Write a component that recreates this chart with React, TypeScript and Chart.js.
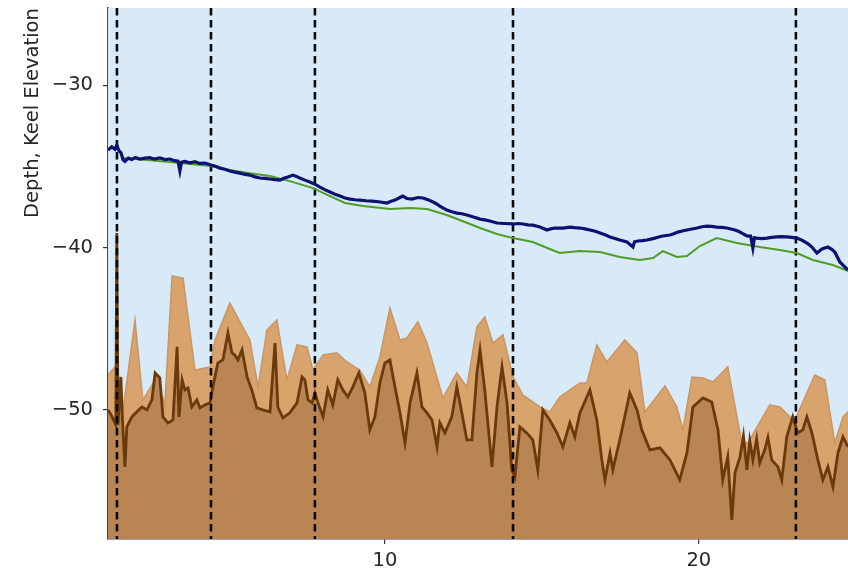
import React, { useEffect, useRef } from "react";
import { Chart, registerables } from "chart.js";

Chart.register(...registerables);

// ---- axes ----
const X_MIN = 1.18;
const X_MAX = 24.75;
const Y_MIN = -57.95;
const Y_MAX = -25.25;
const X_TICKS = [10, 20];
const Y_TICKS = [-50, -40, -30];
const Y_LABEL = "Depth, Keel Elevation";

// vertical dashed dividers (x positions)
const DIVIDER_X = [1.465, 4.46, 7.77, 14.08, 23.09];

// ---- keel elevation (navy) ----
const KEEL_X = [
  1.18, 1.3, 1.4, 1.46, 1.53, 1.59, 1.66, 1.72, 1.83, 1.94, 2.05, 2.2, 2.35, 2.51, 2.65, 2.83, 3.0, 3.15, 3.3, 3.41,
  3.47, 3.52, 3.62, 3.8, 3.95, 4.1, 4.27, 4.46, 4.6, 4.75, 4.9, 5.06, 5.22, 5.38, 5.55, 5.7, 5.86, 6.02, 6.18, 6.34,
  6.5, 6.66, 6.8, 6.91, 7.07, 7.18, 7.29, 7.45, 7.61, 7.77, 7.93, 8.1, 8.25, 8.41, 8.57, 8.73, 8.89, 9.05, 9.2, 9.4,
  9.59, 9.8, 10.06, 10.2, 10.32, 10.45, 10.57, 10.7, 10.86, 11.05, 11.21, 11.37, 11.53, 11.65, 11.75, 11.86, 11.97,
  12.13, 12.29, 12.45, 12.61, 12.82, 13.03, 13.18, 13.34, 13.57, 13.8, 14.08, 14.25, 14.39, 14.55, 14.71, 14.94,
  15.16, 15.28, 15.41, 15.67, 15.89, 16.05, 16.21, 16.37, 16.53, 16.7, 16.85, 17.01, 17.17, 17.33, 17.48, 17.6,
  17.71, 17.9, 17.95, 18.06, 18.2, 18.34, 18.47, 18.6, 18.72, 18.85, 19.08, 19.2, 19.33, 19.47, 19.62, 19.78, 19.94,
  20.1, 20.25, 20.41, 20.57, 20.73, 20.89, 21.02, 21.15, 21.26, 21.37, 21.53, 21.65, 21.72, 21.77, 21.85, 22.0,
  22.17, 22.32, 22.48, 22.64, 22.8, 22.96, 23.12, 23.25, 23.38, 23.5, 23.6, 23.76, 23.92, 24.11, 24.22, 24.33,
  24.49, 24.62, 24.75,
];
const KEEL_Y = [
  -34.0, -33.8, -33.95, -33.7, -34.05, -34.15, -34.6, -34.7, -34.5, -34.58, -34.45, -34.55, -34.5, -34.47, -34.55,
  -34.48, -34.58, -34.55, -34.65, -34.68, -35.29, -34.75, -34.7, -34.78, -34.72, -34.82, -34.8, -34.92, -35.0, -35.11,
  -35.18, -35.29, -35.36, -35.42, -35.5, -35.54, -35.65, -35.72, -35.74, -35.78, -35.82, -35.85, -35.72, -35.66,
  -35.54, -35.62, -35.72, -35.85, -35.97, -36.1, -36.28, -36.45, -36.58, -36.72, -36.83, -36.95, -37.02, -37.06,
  -37.08, -37.12, -37.14, -37.18, -37.26, -37.15, -37.08, -36.95, -36.83, -36.98, -37.02, -36.92, -36.95, -37.05,
  -37.2, -37.32, -37.45, -37.58, -37.69, -37.8, -37.88, -37.92, -38.0, -38.12, -38.25, -38.3, -38.37, -38.49, -38.52,
  -38.55, -38.52, -38.55, -38.6, -38.62, -38.74, -38.92, -38.85, -38.8, -38.8, -38.74, -38.78, -38.8, -38.85, -38.92,
  -39.0, -39.11, -39.22, -39.35, -39.45, -39.54, -39.6, -39.66, -39.97, -39.65, -39.6, -39.58, -39.54, -39.48, -39.42,
  -39.35, -39.29, -39.23, -39.15, -39.05, -38.98, -38.92, -38.86, -38.8, -38.72, -38.68, -38.7, -38.74, -38.76, -38.8,
  -38.86, -38.92, -39.0, -39.11, -39.29, -39.3, -40.03, -39.4, -39.42, -39.45, -39.42, -39.38, -39.35, -39.33, -39.35,
  -39.38, -39.42, -39.52, -39.66, -39.8, -39.97, -40.34, -40.09, -39.97, -40.1, -40.28, -40.89, -41.14, -41.38,
];

// ---- smoothed level (green) ----
const LEVEL_X = [
  1.66, 2.04, 2.52, 3.15, 3.79, 4.46, 5.06, 5.7, 6.34, 6.97, 7.71, 8.25, 8.73, 9.3, 10.16, 10.8, 11.34, 11.97, 12.55,
  13.03, 13.57, 14.08, 14.71, 15.25, 15.57, 16.21, 16.85, 17.48, 18.12, 18.54, 18.85, 19.08, 19.3, 19.62, 20.03,
  20.57, 21.21, 21.94, 22.58, 23.12, 23.63, 24.27, 24.75,
];
const LEVEL_Y = [
  -34.49, -34.55, -34.62, -34.74, -34.86, -34.98, -35.23, -35.42, -35.6, -35.91, -36.34, -36.83, -37.26, -37.45,
  -37.63, -37.57, -37.63, -38.0, -38.43, -38.8, -39.17, -39.42, -39.66, -40.09, -40.34, -40.22, -40.28, -40.58,
  -40.77, -40.65, -40.22, -40.4, -40.58, -40.52, -39.91, -39.42, -39.72, -39.97, -40.15, -40.34, -40.77, -41.08,
  -41.45,
];

// ---- upper envelope (light tan) ----
const ENVELOPE_X = [
  1.18, 1.4, 1.66, 2.04, 2.29, 2.74, 2.99, 3.22, 3.57, 3.95, 4.43, 4.59, 5.06, 5.7, 5.96, 6.24, 6.56, 6.88, 7.2, 7.52,
  7.71, 8.03, 8.47, 8.79, 9.2, 9.52, 9.84, 10.16, 10.48, 10.7, 11.05, 11.34, 11.85, 12.29, 12.61, 12.93, 13.18,
  13.44, 13.76, 14.08, 14.39, 14.94, 15.25, 15.57, 16.21, 16.43, 16.75, 17.07, 17.64, 18.03, 18.28, 18.92, 19.3,
  19.49, 19.78, 20.13, 20.45, 20.92, 21.37, 21.56, 22.26, 22.58, 22.9, 23.06, 23.69, 24.01, 24.33, 24.59, 24.75,
];
const ENVELOPE_Y = [
  -47.85, -47.35, -50.0, -44.46, -49.38, -47.97, -49.69, -41.75, -41.88, -47.54, -47.35, -45.69, -43.42, -45.69,
  -48.58, -45.08, -44.46, -48.15, -46.0, -46.12, -47.54, -46.62, -46.49, -47.05, -47.54, -48.58, -46.74, -43.72,
  -45.69, -45.57, -44.58, -45.88, -49.26, -47.72, -48.58, -44.89, -44.28, -45.88, -45.38, -47.97, -49.08, -49.82,
  -50.12, -49.2, -48.34, -48.34, -46.0, -47.05, -45.69, -46.49, -50.12, -48.52, -49.82, -51.23, -47.97, -48.03,
  -48.28, -47.35, -52.03, -52.03, -49.69, -49.82, -50.43, -50.62, -47.85, -48.15, -52.03, -50.43, -50.12,
];

// ---- bed profile (dark brown) ----
const BED_X = [
  1.18, 1.24, 1.31, 1.43, 1.46, 1.5, 1.59, 1.64, 1.72, 1.78, 1.94, 2.1, 2.26, 2.42, 2.58, 2.68, 2.83, 2.93, 3.09,
  3.25, 3.38, 3.44, 3.54, 3.63, 3.73, 3.85, 4.01, 4.11, 4.27, 4.43, 4.52, 4.68, 4.84, 5.0, 5.13, 5.22, 5.32, 5.45,
  5.61, 5.76, 5.92, 6.11, 6.34, 6.5, 6.59, 6.75, 6.97, 7.2, 7.36, 7.45, 7.55, 7.68, 7.77, 7.87, 8.03, 8.18, 8.34,
  8.5, 8.66, 8.82, 8.98, 9.17, 9.36, 9.52, 9.68, 9.84, 10.0, 10.16, 10.32, 10.48, 10.64, 10.8, 11.02, 11.18, 11.34,
  11.5, 11.66, 11.75, 11.91, 12.13, 12.29, 12.45, 12.61, 12.77, 12.93, 13.03, 13.18, 13.41, 13.57, 13.73, 13.89,
  14.04, 14.14, 14.3, 14.52, 14.71, 14.87, 15.03, 15.25, 15.48, 15.67, 15.89, 16.05, 16.21, 16.53, 16.75, 16.91,
  17.01, 17.17, 17.26, 17.48, 17.8, 18.03, 18.18, 18.44, 18.76, 19.08, 19.39, 19.62, 19.81, 20.13, 20.41, 20.61,
  20.76, 20.92, 21.05, 21.15, 21.31, 21.42, 21.53, 21.62, 21.72, 21.84, 21.94, 22.1, 22.2, 22.32, 22.52, 22.64,
  22.8, 22.99, 23.15, 23.31, 23.44, 23.6, 23.79, 23.95, 24.11, 24.27, 24.43, 24.59, 24.75,
];
const BED_Y = [
  -50.0, -50.18, -50.43, -50.92, -39.11, -50.92, -47.97, -50.6, -53.51, -51.05, -50.43, -50.12, -49.82, -50.0,
  -49.38, -47.72, -48.03, -50.43, -50.8, -50.62, -46.12, -50.43, -48.15, -48.77, -48.65, -49.82, -49.38, -49.88,
  -49.69, -49.57, -48.58, -47.11, -46.92, -45.26, -46.49, -46.62, -46.92, -46.31, -47.97, -48.77, -49.88, -50.0,
  -50.12, -45.88, -49.82, -50.49, -50.18, -49.57, -47.97, -48.15, -49.38, -49.57, -48.95, -49.57, -50.43, -48.77,
  -49.69, -48.15, -48.77, -49.2, -48.58, -47.72, -48.95, -51.23, -50.43, -48.34, -47.11, -46.92, -48.58, -50.18,
  -52.03, -49.57, -47.72, -49.82, -50.18, -50.62, -52.28, -50.8, -51.42, -50.43, -48.58, -50.18, -51.85, -51.85,
  -47.72, -46.31, -48.77, -53.51, -49.82, -47.35, -49.57, -53.69, -54.12, -51.05, -51.42, -51.85, -53.69, -50.0,
  -50.62, -51.42, -52.28, -50.8, -51.66, -50.18, -48.77, -50.62, -53.08, -54.31, -52.65, -53.69, -51.85, -48.95,
  -50.0, -51.23, -52.46, -52.34, -53.08, -54.31, -52.65, -49.82, -49.26, -49.51, -51.23, -54.31, -52.89, -56.77,
  -53.88, -52.89, -51.6, -53.69, -51.9, -53.08, -51.8, -53.26, -52.46, -51.7, -53.08, -53.51, -54.31, -51.66, -50.43,
  -51.42, -51.23, -50.43, -51.42, -53.08, -54.31, -53.51, -54.74, -52.65, -51.66, -52.28,
];

// ---- colours ----
const WATER_COLOR = "#d8eaf8";
const ENVELOPE_FILL = "#d9a36d";
const ENVELOPE_EDGE = "#c99563";
const BED_FILL = "#b98553";
const BED_LINE = "#6a3a0c";
const KEEL_COLOR = "#0d1170";
const LEVEL_COLOR = "#4f9c28";
const TEXT_COLOR = "#262626";
const FONT = "'DejaVu Sans', 'Liberation Sans', sans-serif";

const zip = (xs: number[], ys: number[]) => xs.map((x, i) => ({ x, y: ys[i] }));
const fmt = (v: number) => (v < 0 ? "\u2212" + Math.abs(v) : String(v));

const waterPlugin = {
  id: "water",
  beforeDatasetsDraw(chart: any) {
    const { ctx, chartArea: a } = chart;
    ctx.save();
    ctx.fillStyle = WATER_COLOR;
    ctx.fillRect(a.left, a.top, a.right - a.left, a.bottom - a.top);
    ctx.restore();
  },
};

const yLabelPlugin = {
  id: "yLabel",
  afterDraw(chart: any) {
    const { ctx } = chart;
    ctx.save();
    ctx.translate(33, 113);
    ctx.rotate(-Math.PI / 2);
    ctx.font = `19.5px ${FONT}`;
    ctx.fillStyle = TEXT_COLOR;
    ctx.textAlign = "center";
    ctx.textBaseline = "middle";
    ctx.fillText(Y_LABEL, 0, 0);
    ctx.restore();
  },
};

export default function App() {
  const ref = useRef<HTMLCanvasElement | null>(null);

  useEffect(() => {
    if (!ref.current) return;
    const dividerSets = DIVIDER_X.map((d) => ({
      data: [
        { x: d, y: Y_MAX },
        { x: d, y: Y_MIN },
      ],
      borderColor: "#0a0a0a",
      borderWidth: 2.6,
      borderDash: [7.5, 4.5],
      pointRadius: 0,
      fill: false,
      order: 3,
    }));

    const chart = new Chart(ref.current, {
      type: "line",
      data: {
        datasets: [
          {
            data: zip(KEEL_X, KEEL_Y),
            borderColor: KEEL_COLOR,
            borderWidth: 3.2,
            pointRadius: 0,
            fill: false,
            order: 1,
          },
          {
            data: zip(LEVEL_X, LEVEL_Y),
            borderColor: LEVEL_COLOR,
            borderWidth: 2,
            pointRadius: 0,
            fill: false,
            order: 2,
          },
          ...dividerSets,
          {
            data: zip(BED_X, BED_Y),
            borderColor: BED_LINE,
            backgroundColor: BED_FILL,
            borderWidth: 2.8,
            pointRadius: 0,
            fill: "start",
            order: 4,
          },
          {
            data: zip(ENVELOPE_X, ENVELOPE_Y),
            borderColor: ENVELOPE_EDGE,
            backgroundColor: ENVELOPE_FILL,
            borderWidth: 1.5,
            pointRadius: 0,
            fill: "start",
            order: 5,
          },
        ] as any,
      },
      options: {
        animation: false,
        responsive: false,
        devicePixelRatio: 1,
        layout: { padding: { top: 8, right: 0, left: 0, bottom: 0 } },
        plugins: { legend: { display: false }, tooltip: { enabled: false }, title: { display: false } },
        elements: { line: { tension: 0 } },
        scales: {
          x: {
            type: "linear",
            min: X_MIN,
            max: X_MAX,
            z: 1,
            afterBuildTicks: (s: any) => {
              s.ticks = X_TICKS.map((v) => ({ value: v }));
            },
            afterFit: (s: any) => {
              s.height = 32;
              s.paddingLeft = 0;
              s.paddingRight = 0;
              s.paddingTop = 0;
              s.paddingBottom = 0;
            },
            grid: { drawOnChartArea: false, drawTicks: true, tickLength: 5, color: "#333333", lineWidth: 1.2 },
            border: { display: true, color: "#444444", width: 1.5 },
            ticks: {
              color: TEXT_COLOR,
              font: { family: FONT, size: 19.5 },
              padding: 5,
              maxRotation: 0,
              callback: (v: any) => fmt(Number(v)),
            },
          },
          y: {
            type: "linear",
            min: Y_MIN,
            max: Y_MAX,
            z: 1,
            afterBuildTicks: (s: any) => {
              s.ticks = Y_TICKS.map((v) => ({ value: v }));
            },
            afterFit: (s: any) => {
              s.width = 108;
              s.paddingLeft = 0;
              s.paddingRight = 0;
              s.paddingTop = 0;
              s.paddingBottom = 0;
            },
            grid: { drawOnChartArea: false, drawTicks: true, tickLength: 5, color: "#333333", lineWidth: 1.2 },
            border: { display: true, color: "#444444", width: 1.5 },
            ticks: {
              color: TEXT_COLOR,
              font: { family: FONT, size: 19.5 },
              padding: 10,
              callback: (v: any) => fmt(Number(v)),
            },
          },
        },
      },
      plugins: [waterPlugin, yLabelPlugin],
    });
    return () => chart.destroy();
  }, []);

  return (
    <div style={{ position: "fixed", left: 0, top: 0, width: 848, height: 571, background: "#ffffff" }}>
      <canvas ref={ref} width={848} height={571} style={{ display: "block", width: 848, height: 571 }} />
    </div>
  );
}
